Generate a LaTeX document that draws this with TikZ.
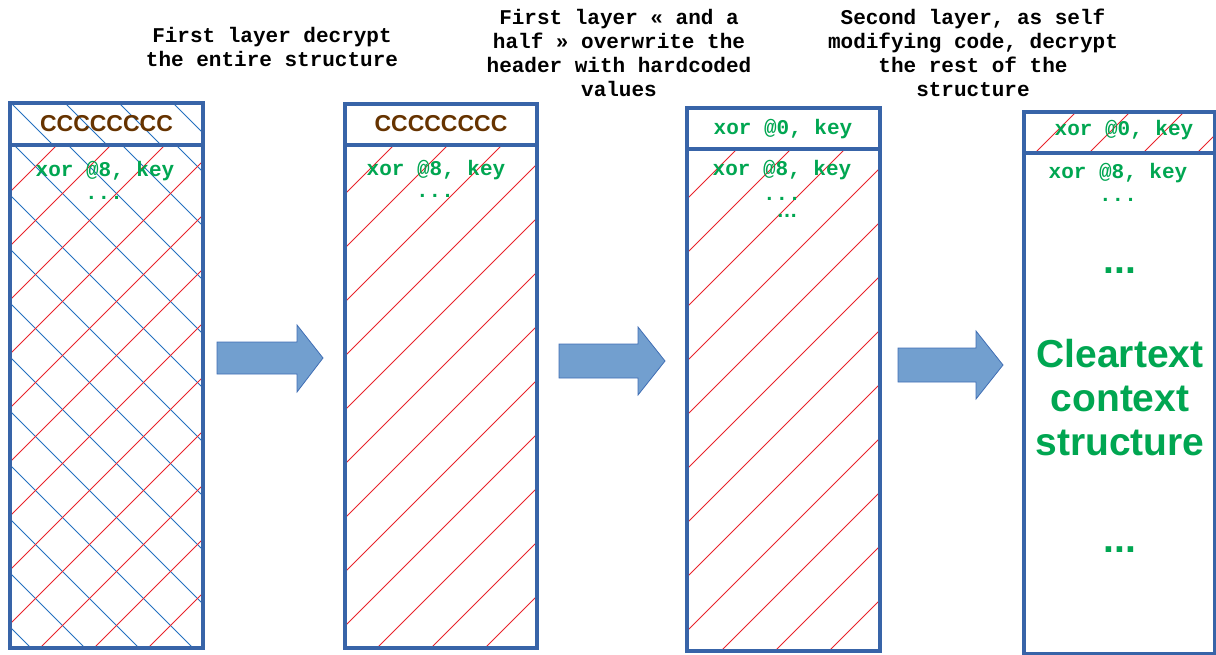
\documentclass[tikz,border=0pt]{standalone}
\usepackage{fontspec}
\setmainfont{Liberation Sans}
\newfontfamily\codefont{Liberation Mono}
\usetikzlibrary{backgrounds}

\definecolor{boxblue}{RGB}{56,100,168}
\definecolor{hatchred}{RGB}{232,36,44}
\definecolor{hatchblue}{RGB}{36,112,192}
\definecolor{codegreen}{RGB}{0,166,81}
\definecolor{magicbrown}{RGB}{102,51,0}
\definecolor{arrowfill}{RGB}{114,159,207}
\definecolor{arrowdraw}{RGB}{64,110,180}

\begin{document}
\begin{tikzpicture}[x=1pt,y=-1pt,
  box/.style={rectangle,draw=boxblue,line width=4pt,inner sep=0pt,outer sep=0pt,anchor=north west},
  capt/.style={font=\codefont\bfseries\fontsize{21}{24}\selectfont,align=center,text=black,inner sep=0pt,anchor=base},
  code/.style={font=\codefont\bfseries\fontsize{21}{24}\selectfont,text=codegreen,inner sep=0pt,anchor=base},
  magic/.style={font=\bfseries\fontsize{23}{27}\selectfont,text=magicbrown,inner sep=0pt,anchor=base},
  big/.style={font=\bfseries\fontsize{39}{44}\selectfont,text=codegreen,inner sep=0pt,align=center,anchor=base},
  hatch/.style={line width=1pt},
  blockarrow/.style={fill=arrowfill,draw=arrowdraw,line width=0.8pt,line join=miter},
]
\useasboundingbox (0,0) rectangle (1216,655);

% captions (anchored at the baseline of their last line)
\node[capt] (t1) at (272,66.5) {First layer decrypt\\the entire structure};
\node[capt] (t2) at (619,97) {First layer « and a\\half » overwrite the\\header with hardcoded\\values};
\node[capt] (t3) at (973,97) {Second layer, as self\\modifying code, decrypt\\the rest of the\\structure};

% memory blocks: header cell + body cell
\node[box,minimum width=193pt,minimum height=42pt] (h1) at (10,103) {};
\node[box,minimum width=193pt,minimum height=503pt] (b1) at (10,145) {};
\node[box,minimum width=192pt,minimum height=41pt] (h2) at (345,104) {};
\node[box,minimum width=192pt,minimum height=503pt] (b2) at (345,145) {};
\node[box,minimum width=193pt,minimum height=41pt] (h3) at (687,108) {};
\node[box,minimum width=193pt,minimum height=502pt] (b3) at (687,149) {};
\node[box,minimum width=191pt,minimum height=41pt] (h4) at (1024,112) {};
\node[box,minimum width=191pt,minimum height=501pt] (b4) at (1024,153) {};

% hatching of the encrypted regions
\begin{scope}[on background layer]
  \begin{scope}
    \clip (h1.north west) rectangle (h1.south east);
    \foreach \i in {-14,...,24} \draw[hatch,hatchblue] ({16+\i*54-100},-100) -- ++(1500,1500);
  \end{scope}
  \begin{scope}
    \clip (b1.north west) rectangle (b1.south east);
    \foreach \i in {-14,...,24} \draw[hatch,hatchblue] ({31+\i*54-100},-100) -- ++(1500,1500);
    \foreach \i in {0,...,36} \draw[hatch,hatchred] ({40+\i*54+100},-100) -- ++(-1500,1500);
  \end{scope}
  \begin{scope}
    \clip (b2.north west) rectangle (b2.south east);
    \foreach \i in {0,...,36} \draw[hatch,hatchred] ({53+\i*54+100},-100) -- ++(-1500,1500);
  \end{scope}
  \begin{scope}
    \clip (b3.north west) rectangle (b3.south east);
    \foreach \i in {0,...,36} \draw[hatch,hatchred] ({22+\i*54+100},-100) -- ++(-1500,1500);
  \end{scope}
  \begin{scope}
    \clip (h4.north west) rectangle (h4.south east);
    \foreach \i in {0,...,36} \draw[hatch,hatchred] ({0+\i*54+100},-100) -- ++(-1500,1500);
  \end{scope}
\end{scope}

% block contents
\node[magic] (m1) at (106.5,132) {CCCCCCCC};
\node[code] (x1) at (105,177) {xor @8, key};
\node[code] (d1) at (104,200) {...};

\node[magic] (m2) at (441,132) {CCCCCCCC};
\node[code] (x2) at (436,176) {xor @8, key};
\node[code] (d2) at (435,198) {...};

\node[code] (z3) at (783,135) {xor @0, key};
\node[code] (x3) at (782,176) {xor @8, key};
\node[code] (d3) at (782,201) {...};
\node[font=\bfseries\fontsize{21}{24}\selectfont,text=codegreen,inner sep=0pt,anchor=base] (e3) at (787,218) {…};

\node[code] (z4) at (1124,136) {xor @0, key};
\node[code] (x4) at (1118,179) {xor @8, key};
\node[code] (d4) at (1118,202) {...};
\node[big] (u4) at (1120,273) {...};
\node[big] (c4) at (1120,455) {Cleartext\\context\\structure};
\node[big] (v4) at (1120,552) {...};

% transition arrows
\draw[blockarrow] (217,342) -- (297,342) -- (297,325) -- (323,358) -- (297,392) -- (297,374) -- (217,374) -- cycle;
\draw[blockarrow] (559,344) -- (638,344) -- (638,327) -- (665,361) -- (638,395) -- (638,378) -- (559,378) -- cycle;
\draw[blockarrow] (898,348) -- (976,348) -- (976,331) -- (1003,365) -- (976,399) -- (976,382) -- (898,382) -- cycle;
\end{tikzpicture}
\end{document}
